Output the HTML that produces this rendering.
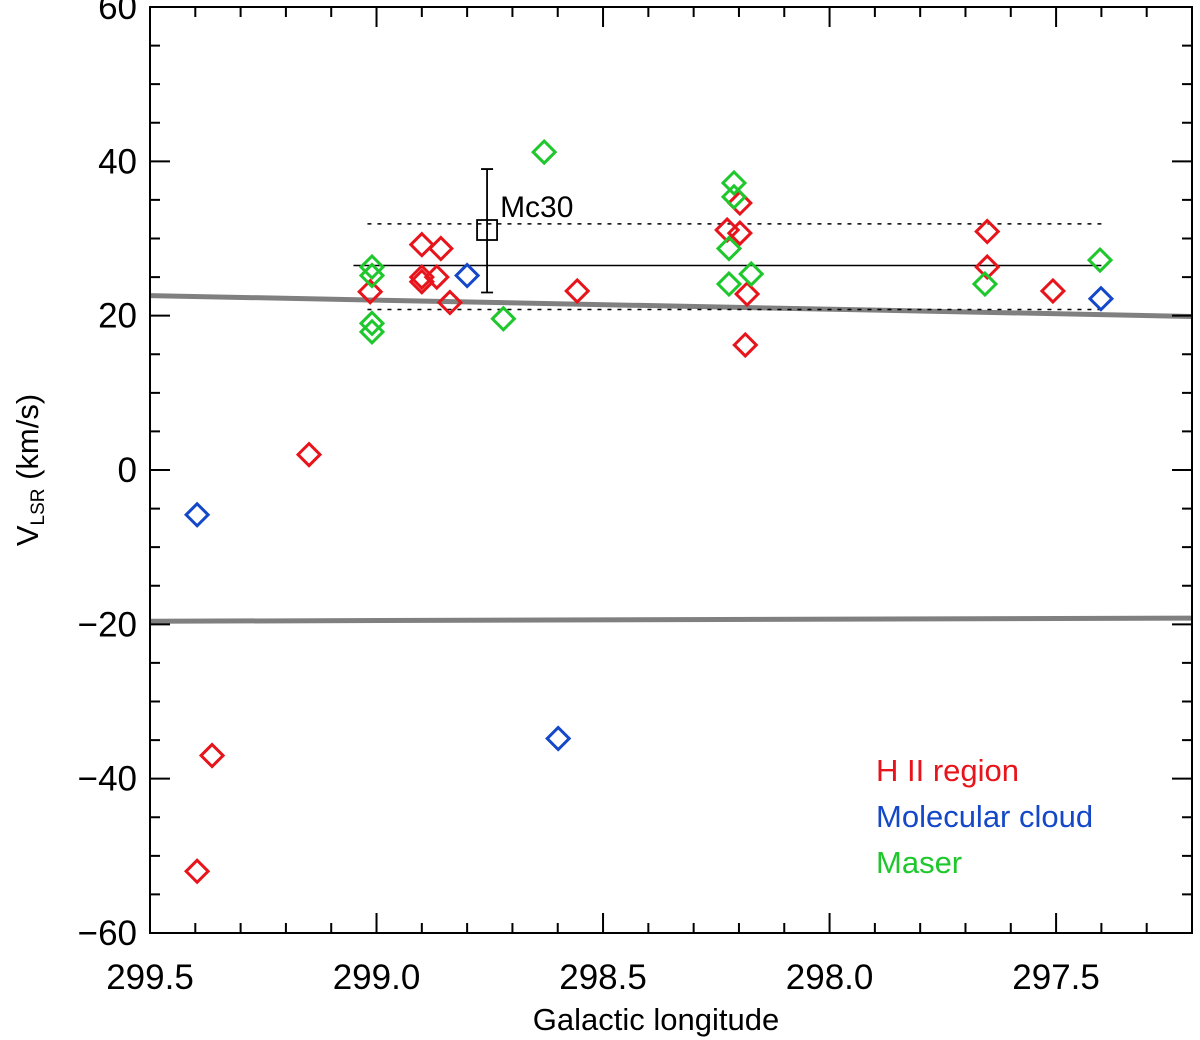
<!DOCTYPE html>
<html><head><meta charset="utf-8"><style>
html,body{margin:0;padding:0;background:#fff;}
svg{display:block;font-family:"Liberation Sans","DejaVu Sans",sans-serif;}
</style></head><body>
<svg id="chart" width="1200" height="1040" viewBox="0 0 1200 1040" xmlns="http://www.w3.org/2000/svg">
<g id="plot"></g>
</svg>
<script>
const hiiLon=[299.396,299.363,299.149,299.014,298.90,298.90,298.90,298.867,298.858,298.838,298.557,298.226,298.198,298.198,298.182,298.186,297.652,297.652,297.507];
const hiiVel=[-52,-37,2,23.1,29.2,25,24.4,25,28.7,21.7,23.2,31.1,34.6,30.7,22.8,16.2,30.9,26.3,23.2];
const molLon=[299.396,298.80,298.599,297.401];
const molVel=[-5.8,25.2,-34.8,22.2];
const maserLon=[299.01,299.01,299.01,299.01,298.72,298.63,298.211,298.211,298.222,298.222,298.173,297.657,297.403];
const maserVel=[26.3,25.2,19,17.9,19.6,41.2,37.2,35.4,28.7,24.1,25.4,24.1,27.2];
const mc30=[298.756,31.1,23,39];
const meanVel=[26.5,31.9,20.8];
const meanLon=[299.02,297.40];
const curveUpper=[22.6,19.9];
const curveLower=[-19.6,-19.2];
const xTicks=["299.5","299.0","298.5","298.0","297.5"];
const yTicks=["60","40","20","0","\u221220","\u221240","\u221260"];

const L=150,R=1192,T=7,B=933;
const X0=299.5,X1=297.2,Y0=-60,Y1=60;
const sx=v=>L+(X0-v)/(X0-X1)*(R-L);
const sy=v=>B-(v-Y0)/(Y1-Y0)*(B-T);
const NS="http://www.w3.org/2000/svg";
const g=document.getElementById('plot');
function mk(t,a,p){const e=document.createElementNS(NS,t);for(const k in a)e.setAttribute(k,a[k]);(p||g).appendChild(e);return e;}

let c1=mk('line',{x1:L,y1:sy(curveUpper[0]),x2:R,y2:sy(curveUpper[1]),stroke:'#808080','stroke-width':5});


let c2=mk('line',{x1:L,y1:sy(curveLower[0]),x2:R,y2:sy(curveLower[1]),stroke:'#808080','stroke-width':5});



let m0=mk('line',{x1:sx(meanLon[0])-14,y1:sy(meanVel[0]),x2:sx(meanLon[1]),y2:sy(meanVel[0]),stroke:'#000','stroke-width':1.5});


for(let i=1;i<3;i++){
 let d=mk('line',{x1:sx(meanLon[0]),y1:sy(meanVel[i]),x2:sx(meanLon[1]),y2:sy(meanVel[i]),stroke:'#000','stroke-width':1.5,'stroke-dasharray':'4,6'});
 
 
}

const mx=sx(mc30[0]);
let eb=mk('path',{d:`M${mx},${sy(mc30[2])}V${sy(mc30[3])}M${mx-6},${sy(mc30[2])}H${mx+6}M${mx-6},${sy(mc30[3])}H${mx+6}`,stroke:'#000','stroke-width':1.8,fill:'none'});


let sq=mk('rect',{x:mx-10,y:sy(mc30[1])-10,width:20,height:20,fill:'none',stroke:'#000','stroke-width':1.8});


let ml=mk('text',{x:mx+13,y:sy(mc30[1])-13,'font-size':30,fill:'#000'});ml.textContent='Mc30';



function diamonds(lon,vel,col,name){
 for(let i=0;i<lon.length;i++){
  const x=sx(lon[i]),y=sy(vel[i]),r=11;
  let p=mk('path',{d:`M${x},${y-r}L${x+r},${y}L${x},${y+r}L${x-r},${y}Z`,fill:'none',stroke:col,'stroke-width':3});
  
  
 }
}
diamonds(hiiLon,hiiVel,'#e8141b','hii-region-point');
diamonds(molLon,molVel,'#1448c8','molecular-cloud-point');
diamonds(maserLon,maserVel,'#1ec82c','maser-point');

let fr=mk('rect',{x:L,y:T,width:R-L,height:B-T,fill:'none',stroke:'#000','stroke-width':2});


let tp='';
for(let k=0;k<=23;k++){const v=X0-k*0.1;const x=sx(v);const len=(k%5===0)?20:10;tp+=`M${x},${B}v${-len}M${x},${T}v${len}`;}
for(let k=0;k<=24;k++){const v=Y0+k*5;const y=sy(v);const len=(k%4===0)?20:10;tp+=`M${L},${y}h${len}M${R},${y}h${-len}`;}
let tk=mk('path',{d:tp,stroke:'#000','stroke-width':2,fill:'none'});


xTicks.forEach((s,i)=>{let t=mk('text',{x:sx(X0-i*0.5),y:B+56,'font-size':35,'text-anchor':'middle',fill:'#000'});t.textContent=s;
 
 });
yTicks.forEach((s,i)=>{let t=mk('text',{x:L-13,y:sy(Y1-i*20)+12,'font-size':35,'text-anchor':'end',fill:'#000'});t.textContent=s;
 
 });
let xt=mk('text',{x:(L+R)/2-15,y:1030,'font-size':31,'text-anchor':'middle',fill:'#000'});xt.textContent='Galactic longitude';


let yt=mk('text',{transform:`translate(38,${sy(0)}) rotate(-90)`,'font-size':31,'text-anchor':'middle',fill:'#000'});
yt.innerHTML='V<tspan font-size="19" dy="6">LSR</tspan><tspan dy="-6"> (km/s)</tspan>';


[['H II region','#e8141b','legend-hii'],['Molecular cloud','#1448c8','legend-molecular'],['Maser','#1ec82c','legend-maser']].forEach((e,i)=>{
 let t=mk('text',{x:876,y:781+i*46,'font-size':31,fill:e[1]});t.textContent=e[0];
 
 
});
</script>
</body></html>
